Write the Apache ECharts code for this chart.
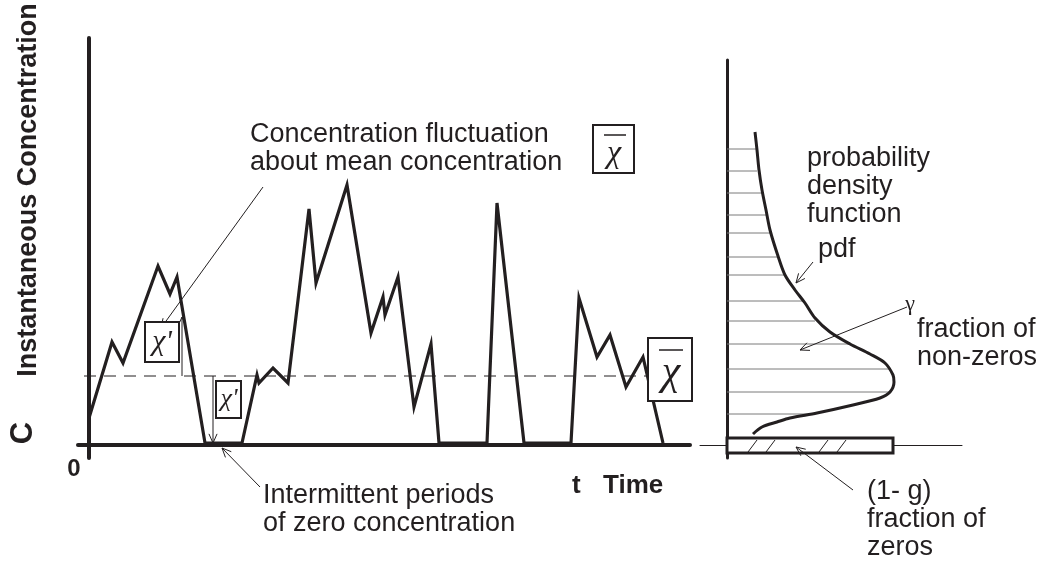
<!DOCTYPE html>
<html>
<head>
<meta charset="utf-8">
<script src="https://cdn.jsdelivr.net/npm/echarts@6/dist/echarts.min.js"></script>
<style>
  html, body { margin: 0; padding: 0; background: #fff; }
  #chart { width: 1042px; height: 565px; }
</style>
</head>
<body>
<div id="chart"></div>
<script>
// time trace of instantaneous concentration (t, C in arbitrary units)
const timeT = [0, 23, 34, 69, 81, 88, 116, 153, 168, 170, 184, 199, 220, 227, 258, 282, 294, 296, 309, 325,
  342, 350, 398, 408, 435, 482, 490, 508, 521, 537, 554, 574]
const concC = [27, 103, 82, 179, 151, 168, 2, 2, 70, 62, 77, 62, 236, 162, 260, 112, 148, 130, 168, 38,
  101, 2, 2, 242, 2, 2, 147, 88, 110, 58, 88, 2]
const meanC = 69
const meanSpan = [-25, 558]

// pdf of the non-zero part (density, C)
const pdfDensity = [28, 30, 32, 35, 39, 43, 51, 58, 68, 78, 88, 103, 123, 143, 158, 166, 167, 163, 153, 126, 90, 63, 50, 35, 26]
const pdfC = [313, 295, 275, 255, 235, 215, 189, 170, 155, 142, 127, 113, 101, 91, 82, 70, 63, 53, 47, 40, 32, 27, 23, 18, 11]

// horizontal shading under the pdf
const shadeC = [296, 274, 252, 230, 212, 188, 170, 144, 124, 101, 76, 53, 31]
const shadeLen = [29, 30, 35, 39, 43, 51, 58, 76, 88, 122, 164, 163, 85]

// fraction of zeros bar
const zeroBar = [166, -8, 7] // width, C low, C high
const zeroHatch = [21, 39, 92, 110]

const ink = '#231f20'
const sans = 'Liberation Sans, Arial, sans-serif'
const serif = 'Liberation Serif, Times New Roman, serif'

const chart = echarts.init(document.getElementById('chart'), null, { renderer: 'canvas' })

/* ------------ helpers for the annotations ------------ */
function arrow(x1, y1, x2, y2, head) {
  const L = head || 10
  const a = Math.atan2(y2 - y1, x2 - x1)
  const s = 0.42
  const st = { stroke: ink, lineWidth: 1, fill: null }
  return [
    { type: 'line', z: 50, shape: { x1, y1, x2, y2 }, style: st },
    {
      type: 'polyline', z: 50,
      shape: {
        points: [
          [x2 - L * Math.cos(a - s), y2 - L * Math.sin(a - s)],
          [x2, y2],
          [x2 - L * Math.cos(a + s), y2 - L * Math.sin(a + s)],
        ],
      },
      style: st,
    },
  ]
}

function label(text, x, y, font, opts) {
  const o = opts || {}
  return {
    type: 'text', z: 60, x, y, rotation: o.rotation || 0,
    style: {
      text, font, fill: ink,
      align: o.align || 'left', textAlign: o.align || 'left',
      verticalAlign: o.va || 'top', textVerticalAlign: o.va || 'top',
      lineHeight: o.lh,
    },
  }
}

function box(x, y, w, h, lw) {
  return { type: 'rect', z: 55, shape: { x, y, width: w, height: h }, style: { fill: '#fff', stroke: ink, lineWidth: lw || 2 } }
}

function bar(x1, x2, y) {
  return { type: 'line', z: 60, shape: { x1, y1: y, x2, y2: y }, style: { stroke: ink, lineWidth: 1.5 } }
}

const graphics = [
  // axis titles
  label('Instantaneous Concentration', 29, 190, 'bold 27px ' + sans, { rotation: Math.PI / 2, align: 'center', va: 'middle' }),
  label('C', 23, 433, 'bold 31px ' + sans, { rotation: Math.PI / 2, align: 'center', va: 'middle' }),
  label('0', 74, 469, 'bold 24px ' + sans, { align: 'center', va: 'middle' }),
  label('t', 572, 486, 'bold 26px ' + sans, { va: 'middle' }),
  label('Time', 603, 486, 'bold 26px ' + sans, { va: 'middle' }),

  // left annotations
  label('Concentration fluctuation\nabout mean concentration', 250, 121, '27px ' + sans, { lh: 28 }),
  label('Intermittent periods\nof zero concentration', 263, 482, '27px ' + sans, { lh: 28 }),
  ...arrow(263, 187, 161, 328),
  ...arrow(182, 376, 182, 317, 8),
  ...arrow(213, 376, 213, 443),
  ...arrow(260, 487, 222, 448),
  box(145, 322, 34, 40),
  label('χ\'', 162, 342, 'italic 30px ' + serif, { align: 'center', va: 'middle' }),
  box(216, 381, 25, 37),
  label('χ\'', 229, 399, 'italic 26px ' + serif, { align: 'center', va: 'middle' }),
  box(593, 125, 41, 48),
  bar(604, 626, 135),
  label('χ', 614, 154, 'italic 32px ' + serif, { align: 'center', va: 'middle' }),
  box(648, 338, 44, 63),
  bar(659, 683, 350),
  label('χ', 671, 373, 'italic 42px ' + serif, { align: 'center', va: 'middle' }),

  // right annotations
  label('probability\ndensity\nfunction', 807, 145, '27px ' + sans, { lh: 28 }),
  label('pdf', 818, 236, '27px ' + sans, { lh: 28 }),
  ...arrow(813, 262, 796, 283),
  label('γ', 910, 304, '22px ' + serif, { align: 'center', va: 'middle' }),
  label('fraction of\nnon-zeros', 917, 316, '27px ' + sans, { lh: 28 }),
  ...arrow(907, 307, 800, 350),
  label('(1- g)\nfraction of\nzeros', 867, 478, '27px ' + sans, { lh: 28 }),
  ...arrow(853, 490, 796, 447),
]

const option = {
  animation: false,
  backgroundColor: '#fff',
  grid: [
    { left: 78, top: 38, width: 612, height: 420 },
    { left: 700, top: 60, width: 262, height: 398 },
  ],
  xAxis: [
    {
      type: 'value', gridIndex: 0, min: -11, max: 601,
      axisLine: { onZero: true, lineStyle: { color: ink, width: 4 } },
      axisTick: { show: false }, axisLabel: { show: false }, splitLine: { show: false },
    },
    {
      type: 'value', gridIndex: 1, min: -27, max: 235,
      axisLine: { onZero: true, lineStyle: { color: ink, width: 1 } },
      axisTick: { show: false }, axisLabel: { show: false }, splitLine: { show: false },
    },
  ],
  yAxis: [
    {
      type: 'value', gridIndex: 0, min: -13, max: 407,
      axisLine: { onZero: true, lineStyle: { color: ink, width: 4 } },
      axisTick: { show: false }, axisLabel: { show: false }, splitLine: { show: false },
    },
    {
      type: 'value', gridIndex: 1, min: -13, max: 385,
      axisLine: { onZero: true, lineStyle: { color: ink, width: 3 } },
      axisTick: { show: false }, axisLabel: { show: false }, splitLine: { show: false },
    },
  ],
  series: [
    {
      // mean concentration (dashed)
      type: 'line', xAxisIndex: 0, yAxisIndex: 0, clip: false, symbol: 'none', z: 3,
      data: meanSpan.map(t => [t, meanC]),
      lineStyle: { color: ink, width: 1, type: [12, 8] },
    },
    {
      type: 'line', xAxisIndex: 0, yAxisIndex: 0, symbol: 'none', z: 4,
      data: timeT.map((t, i) => [t, concC[i]]),
      lineStyle: { color: ink, width: 3.2, join: 'miter', miterLimit: 6 },
    },
    {
      // shading lines under the pdf
      type: 'custom', xAxisIndex: 1, yAxisIndex: 1, z: 2,
      data: shadeC.map((c, i) => [shadeLen[i], c]),
      renderItem: (params, api) => {
        const p0 = api.coord([0, api.value(1)])
        const p1 = api.coord([api.value(0), api.value(1)])
        return {
          type: 'line',
          shape: { x1: p0[0], y1: p0[1], x2: p1[0], y2: p1[1] },
          style: { stroke: '#7a7a7a', lineWidth: 1 },
        }
      },
    },
    {
      type: 'line', xAxisIndex: 1, yAxisIndex: 1, symbol: 'none', smooth: 0.3, z: 4,
      data: pdfDensity.map((d, i) => [d, pdfC[i]]),
      lineStyle: { color: ink, width: 3 },
    },
    {
      // fraction of zeros
      type: 'custom', xAxisIndex: 1, yAxisIndex: 1, z: 5,
      data: [zeroBar],
      renderItem: (params, api) => {
        const tl = api.coord([0, api.value(2)])
        const br = api.coord([api.value(0), api.value(1)])
        const children = [{
          type: 'rect',
          shape: { x: tl[0], y: tl[1], width: br[0] - tl[0], height: br[1] - tl[1] },
          style: { fill: '#fff', stroke: ink, lineWidth: 3 },
        }]
        zeroHatch.forEach(d => {
          const a = api.coord([d, api.value(1)])
          children.push({
            type: 'line',
            shape: { x1: a[0], y1: a[1] - 1, x2: a[0] + 9, y2: tl[1] + 2 },
            style: { stroke: ink, lineWidth: 1 },
          })
        })
        return { type: 'group', children }
      },
    },
  ],
  graphic: graphics,
}

chart.setOption(option)
</script>
</body>
</html>
